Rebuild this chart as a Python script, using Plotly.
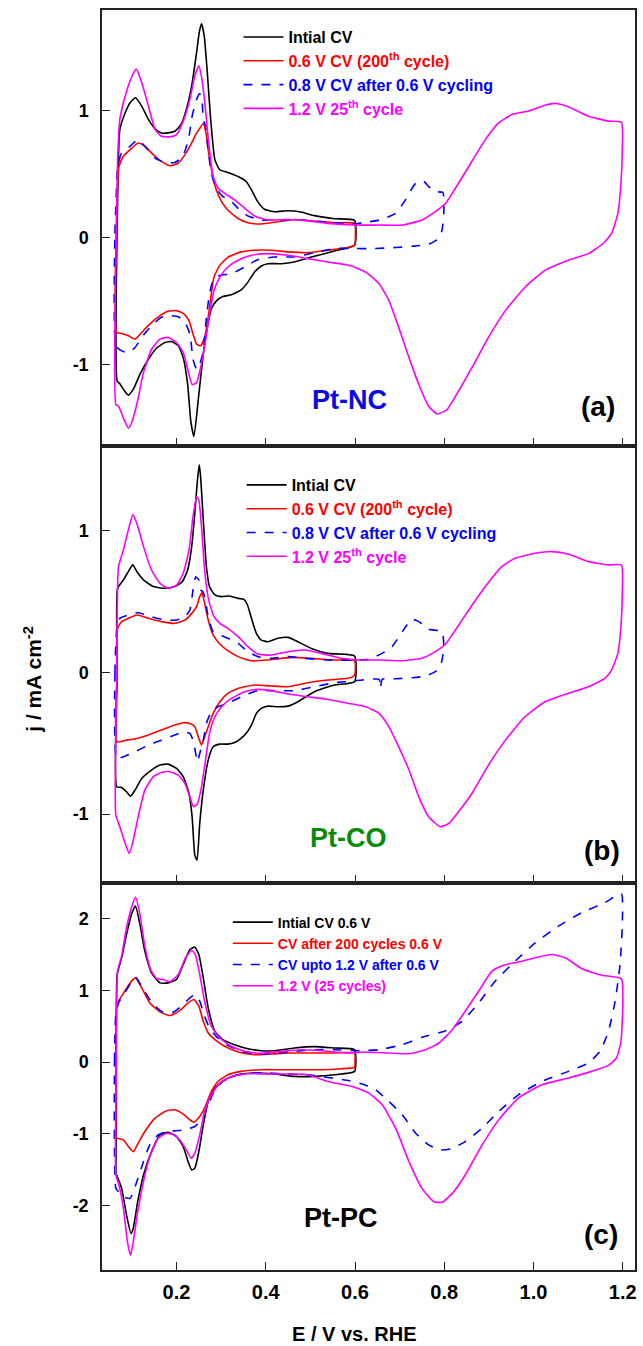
import plotly.graph_objects as go

# ---------------- data (E / V vs RHE, j / mA cm^-2) ----------------
a_black = [(0.067,-1.129),(0.068,0.296),(0.073,0.850),(0.085,0.982),(0.096,1.061),(0.108,1.100),(0.122,1.034),(0.137,0.929),(0.152,0.855),(0.166,0.823),(0.181,0.823),(0.196,0.836),(0.210,0.889),(0.222,1.008),(0.234,1.193),(0.245,1.456),(0.251,1.615),(0.256,1.681),(0.262,1.588),(0.269,1.298),(0.276,0.955),(0.286,0.612),(0.297,0.533),(0.315,0.512),(0.338,0.480),(0.356,0.441),(0.368,0.375),(0.382,0.282),(0.397,0.222),(0.420,0.203),(0.450,0.211),(0.479,0.201),(0.509,0.172),(0.554,0.148),(0.599,0.135),
           (0.599,-0.061),(0.554,-0.106),(0.509,-0.148),(0.464,-0.193),(0.435,-0.206),(0.405,-0.206),(0.390,-0.224),(0.375,-0.272),(0.360,-0.351),(0.345,-0.412),(0.323,-0.451),(0.304,-0.464),(0.290,-0.496),(0.278,-0.562),(0.269,-0.707),(0.260,-0.918),(0.250,-1.235),(0.239,-1.565),(0.232,-1.446),(0.225,-1.156),(0.215,-0.945),(0.204,-0.852),(0.189,-0.818),(0.174,-0.826),(0.155,-0.871),(0.137,-0.958),(0.118,-1.077),(0.103,-1.195),(0.092,-1.240),(0.081,-1.195),(0.073,-1.150),(0.067,-1.129)]
a_red = [(0.066,-0.747),(0.067,0.296),(0.071,0.559),(0.081,0.639),(0.096,0.691),(0.114,0.744),(0.129,0.718),(0.148,0.652),(0.166,0.599),(0.185,0.565),(0.204,0.586),(0.219,0.652),(0.234,0.744),(0.245,0.823),(0.253,0.863),(0.260,0.897),(0.266,0.823),(0.272,0.665),(0.280,0.507),(0.289,0.375),(0.301,0.282),(0.315,0.216),(0.338,0.150),(0.360,0.116),(0.390,0.106),(0.427,0.124),(0.464,0.142),(0.502,0.132),(0.554,0.116),(0.599,0.111),(0.601,0.032),
         (0.599,-0.061),(0.584,-0.079),(0.539,-0.100),(0.494,-0.119),(0.450,-0.113),(0.412,-0.100),(0.375,-0.100),(0.345,-0.113),(0.316,-0.153),(0.297,-0.219),(0.284,-0.311),(0.278,-0.443),(0.271,-0.628),(0.263,-0.786),(0.254,-0.852),(0.245,-0.839),(0.237,-0.760),(0.228,-0.654),(0.217,-0.602),(0.200,-0.575),(0.181,-0.580),(0.163,-0.615),(0.140,-0.681),(0.122,-0.747),(0.107,-0.799),(0.092,-0.773),(0.077,-0.755),(0.066,-0.747)]
a_blue = [(0.064,-0.852),(0.062,0.032),(0.064,0.243),(0.068,0.559),(0.077,0.665),(0.096,0.718),(0.114,0.770),(0.129,0.718),(0.152,0.625),(0.174,0.591),(0.196,0.591),(0.211,0.625),(0.220,0.691),(0.228,0.797),(0.235,0.955),(0.245,1.087),(0.252,1.132),(0.257,1.087),(0.260,0.929),(0.265,0.876),(0.271,0.691),(0.278,0.507),(0.289,0.388),(0.304,0.322),(0.319,0.296),(0.338,0.230),(0.360,0.169),(0.390,0.137),(0.427,0.137),(0.464,0.142),(0.524,0.124),(0.599,0.106),
          (0.616,0.116),(0.654,0.137),(0.691,0.190),(0.713,0.296),(0.736,0.427),(0.754,0.441),(0.765,0.401),(0.780,0.361),(0.797,0.354),(0.799,0.190),(0.795,0.058),(0.788,-0.008),(0.765,-0.053),(0.728,-0.069),(0.691,-0.079),(0.639,-0.087),(0.600,-0.087),
          (0.554,-0.087),(0.509,-0.119),(0.464,-0.153),(0.420,-0.153),(0.382,-0.174),(0.353,-0.232),(0.323,-0.285),(0.297,-0.298),(0.282,-0.338),(0.274,-0.443),(0.267,-0.628),(0.260,-0.892),(0.252,-0.997),(0.245,-1.037),(0.237,-0.958),(0.230,-0.760),(0.219,-0.668),(0.204,-0.623),(0.185,-0.615),(0.166,-0.628),(0.144,-0.694),(0.122,-0.786),(0.107,-0.865),(0.092,-0.905),(0.077,-0.892),(0.064,-0.852)]
a_mag = [(0.064,-1.314),(0.065,0.032),(0.068,0.612),(0.073,0.929),(0.085,1.113),(0.099,1.259),(0.110,1.325),(0.122,1.219),(0.137,1.034),(0.152,0.850),(0.166,0.797),(0.185,0.792),(0.200,0.810),(0.215,0.916),(0.230,1.087),(0.241,1.272),(0.250,1.351),(0.257,1.245),(0.265,1.008),(0.272,0.744),(0.282,0.480),(0.293,0.388),(0.308,0.348),(0.330,0.296),(0.353,0.230),(0.375,0.169),(0.405,0.137),(0.442,0.142),(0.479,0.137),(0.539,0.111),(0.599,0.098),
         (0.654,0.098),(0.706,0.098),(0.750,0.137),(0.780,0.203),(0.803,0.269),(0.825,0.388),(0.855,0.559),(0.892,0.770),(0.922,0.902),(0.952,0.968),(0.989,0.995),(1.026,1.040),(1.048,1.055),(1.078,1.029),(1.123,0.955),(1.168,0.916),(1.197,0.908),
         (1.199,0.691),(1.196,0.427),(1.189,0.190),(1.175,0.032),(1.156,-0.047),(1.123,-0.127),(1.078,-0.179),(1.026,-0.259),(0.981,-0.391),(0.937,-0.575),(0.899,-0.786),(0.862,-1.024),(0.832,-1.208),(0.806,-1.354),(0.784,-1.388),(0.765,-1.327),(0.743,-1.156),(0.721,-0.945),(0.698,-0.707),(0.676,-0.496),(0.654,-0.364),(0.624,-0.272),(0.587,-0.219),
         (0.539,-0.193),(0.494,-0.166),(0.450,-0.140),(0.405,-0.127),(0.368,-0.140),(0.338,-0.179),(0.315,-0.232),(0.297,-0.311),(0.284,-0.417),(0.274,-0.602),(0.265,-0.813),(0.254,-1.024),(0.245,-1.142),(0.235,-1.156),(0.226,-1.050),(0.215,-0.905),(0.200,-0.826),(0.181,-0.786),(0.163,-0.799),(0.144,-0.879),(0.125,-1.077),(0.111,-1.314),(0.099,-1.459),(0.092,-1.499),(0.081,-1.420),(0.070,-1.327),(0.064,-1.314)]

b_black = [(0.066,-0.807),(0.067,-0.007),(0.068,0.593),(0.081,0.652),(0.092,0.711),(0.102,0.758),(0.111,0.711),(0.126,0.652),(0.148,0.605),(0.174,0.593),(0.196,0.605),(0.213,0.640),(0.225,0.722),(0.234,0.887),(0.241,1.122),(0.247,1.358),(0.251,1.464),(0.254,1.381),(0.260,1.075),(0.267,0.746),(0.274,0.605),(0.286,0.546),(0.301,0.534),(0.319,0.539),(0.338,0.522),(0.351,0.515),(0.359,0.475),(0.368,0.381),(0.379,0.275),(0.390,0.228),(0.405,0.216),(0.427,0.240),(0.450,0.247),(0.472,0.216),(0.502,0.169),(0.539,0.134),(0.599,0.115),
           (0.599,-0.066),(0.554,-0.089),(0.509,-0.136),(0.472,-0.207),(0.450,-0.238),(0.427,-0.242),(0.405,-0.238),(0.390,-0.254),(0.379,-0.289),(0.368,-0.372),(0.353,-0.442),(0.334,-0.489),(0.315,-0.506),(0.297,-0.506),(0.282,-0.525),(0.271,-0.619),(0.260,-0.831),(0.252,-1.066),(0.246,-1.325),(0.241,-1.289),(0.235,-1.019),(0.228,-0.854),(0.215,-0.736),(0.200,-0.678),(0.181,-0.647),(0.163,-0.654),(0.144,-0.689),(0.122,-0.748),(0.107,-0.831),(0.097,-0.873),(0.088,-0.842),(0.077,-0.812),(0.066,-0.807)]
b_red = [(0.066,-0.489),(0.067,-0.007),(0.068,0.311),(0.077,0.358),(0.092,0.381),(0.111,0.405),(0.137,0.381),(0.166,0.358),(0.196,0.346),(0.219,0.369),(0.234,0.416),(0.245,0.464),(0.252,0.534),(0.257,0.562),(0.263,0.487),(0.271,0.369),(0.282,0.264),(0.297,0.200),(0.315,0.153),(0.338,0.111),(0.368,0.082),(0.405,0.087),(0.435,0.099),(0.464,0.106),(0.502,0.099),(0.554,0.087),(0.599,0.082),(0.599,-0.019),
         (0.584,-0.042),(0.539,-0.054),(0.494,-0.073),(0.450,-0.101),(0.412,-0.096),(0.375,-0.089),(0.338,-0.113),(0.315,-0.148),(0.297,-0.207),(0.282,-0.289),(0.271,-0.384),(0.263,-0.454),(0.256,-0.513),(0.250,-0.466),(0.241,-0.384),(0.230,-0.360),(0.215,-0.355),(0.196,-0.372),(0.166,-0.407),(0.137,-0.442),(0.111,-0.466),(0.088,-0.478),(0.066,-0.489)]
b_blue = [(0.066,-0.607),(0.062,-0.007),(0.066,0.299),(0.073,0.381),(0.092,0.405),(0.114,0.421),(0.144,0.393),(0.174,0.369),(0.200,0.369),(0.219,0.393),(0.230,0.440),(0.237,0.581),(0.243,0.675),(0.250,0.652),(0.254,0.581),(0.259,0.569),(0.263,0.534),(0.271,0.393),(0.282,0.287),(0.297,0.264),(0.315,0.240),(0.338,0.205),(0.360,0.146),(0.382,0.111),(0.412,0.099),(0.450,0.111),(0.487,0.099),(0.539,0.087),(0.599,0.087),
          (0.631,0.092),(0.661,0.134),(0.683,0.181),(0.706,0.287),(0.727,0.374),(0.743,0.358),(0.765,0.304),(0.795,0.287),(0.799,0.181),(0.795,0.087),(0.791,0.040),(0.780,0.005),(0.758,-0.026),(0.728,-0.038),(0.691,-0.045),(0.661,-0.049),(0.657,-0.113),(0.654,-0.049),(0.616,-0.054),(0.600,-0.059),
          (0.554,-0.073),(0.509,-0.101),(0.464,-0.129),(0.420,-0.129),(0.382,-0.129),(0.345,-0.172),(0.315,-0.219),(0.293,-0.242),(0.278,-0.278),(0.267,-0.360),(0.260,-0.478),(0.252,-0.572),(0.247,-0.631),(0.243,-0.572),(0.238,-0.489),(0.230,-0.431),(0.215,-0.419),(0.196,-0.442),(0.166,-0.478),(0.137,-0.513),(0.107,-0.560),(0.081,-0.595),(0.066,-0.607)]
b_mag = [(0.064,-1.007),(0.066,-0.007),(0.070,0.746),(0.081,0.864),(0.092,1.005),(0.102,1.111),(0.111,1.052),(0.126,0.887),(0.144,0.722),(0.163,0.628),(0.181,0.593),(0.200,0.616),(0.215,0.699),(0.228,0.864),(0.237,1.099),(0.245,1.240),(0.250,1.216),(0.256,1.028),(0.263,0.722),(0.272,0.511),(0.284,0.393),(0.297,0.346),(0.315,0.311),(0.338,0.252),(0.360,0.181),(0.382,0.129),(0.412,0.122),(0.450,0.146),(0.487,0.158),(0.524,0.134),(0.569,0.099),(0.613,0.087),
         (0.654,0.087),(0.706,0.082),(0.750,0.099),(0.780,0.146),(0.803,0.200),(0.825,0.299),(0.855,0.440),(0.892,0.605),(0.929,0.746),(0.959,0.805),(1.004,0.840),(1.041,0.852),(1.078,0.835),(1.123,0.781),(1.168,0.758),(1.197,0.758),
         (1.199,0.558),(1.196,0.322),(1.189,0.134),(1.175,0.016),(1.160,-0.042),(1.123,-0.101),(1.078,-0.148),(1.026,-0.207),(0.981,-0.313),(0.937,-0.478),(0.899,-0.654),(0.862,-0.854),(0.829,-0.995),(0.810,-1.066),(0.791,-1.089),(0.765,-1.019),(0.743,-0.878),(0.721,-0.689),(0.698,-0.525),(0.676,-0.384),(0.654,-0.289),(0.624,-0.242),(0.587,-0.219),
         (0.539,-0.191),(0.494,-0.172),(0.450,-0.153),(0.412,-0.129),(0.382,-0.120),(0.353,-0.136),(0.323,-0.184),(0.301,-0.242),(0.286,-0.313),(0.274,-0.431),(0.265,-0.619),(0.256,-0.807),(0.247,-0.925),(0.238,-0.948),(0.230,-0.878),(0.219,-0.784),(0.204,-0.725),(0.185,-0.701),(0.166,-0.706),(0.148,-0.736),(0.129,-0.831),(0.114,-1.019),(0.103,-1.184),(0.094,-1.278),(0.085,-1.207),(0.073,-1.089),(0.064,-1.007)]

c_black = [(0.064,-1.572),(0.065,-0.642),(0.067,1.219),(0.077,1.451),(0.088,1.777),(0.099,2.056),(0.108,2.172),(0.118,1.916),(0.129,1.544),(0.144,1.242),(0.163,1.102),(0.181,1.102),(0.200,1.149),(0.215,1.358),(0.230,1.567),(0.241,1.600),(0.250,1.498),(0.260,1.172),(0.271,0.753),(0.286,0.428),(0.304,0.312),(0.330,0.242),(0.360,0.186),(0.390,0.158),(0.420,0.158),(0.464,0.195),(0.509,0.214),(0.554,0.195),(0.599,0.172),
           (0.599,-0.130),(0.554,-0.177),(0.509,-0.200),(0.464,-0.200),(0.420,-0.167),(0.375,-0.153),(0.338,-0.177),(0.308,-0.247),(0.286,-0.363),(0.271,-0.549),(0.260,-0.874),(0.250,-1.247),(0.241,-1.479),(0.234,-1.502),(0.226,-1.386),(0.215,-1.177),(0.200,-1.037),(0.181,-0.977),(0.163,-1.014),(0.144,-1.247),(0.126,-1.572),(0.113,-1.944),(0.103,-2.316),(0.098,-2.386),(0.088,-2.130),(0.077,-1.758),(0.066,-1.572)]
c_red = [(0.064,-1.060),(0.064,-0.177),(0.066,0.753),(0.070,0.847),(0.084,0.986),(0.099,1.126),(0.108,1.172),(0.122,1.033),(0.140,0.823),(0.163,0.698),(0.185,0.647),(0.207,0.716),(0.226,0.823),(0.239,0.870),(0.250,0.777),(0.260,0.567),(0.271,0.405),(0.286,0.312),(0.308,0.219),(0.338,0.140),(0.375,0.102),(0.412,0.112),(0.450,0.126),(0.502,0.126),(0.554,0.126),(0.599,0.126),(0.600,0.009),(0.599,-0.074),
         (0.569,-0.093),(0.524,-0.107),(0.479,-0.107),(0.435,-0.107),(0.390,-0.107),(0.345,-0.130),(0.315,-0.177),(0.293,-0.270),(0.278,-0.409),(0.263,-0.642),(0.252,-0.758),(0.239,-0.837),(0.230,-0.805),(0.215,-0.726),(0.196,-0.665),(0.178,-0.679),(0.152,-0.781),(0.129,-0.967),(0.114,-1.130),(0.103,-1.247),(0.092,-1.177),(0.081,-1.084),(0.066,-1.060)]
c_blue = [(0.064,-1.758),(0.061,0.009),(0.064,0.660),(0.070,0.823),(0.084,0.963),(0.108,1.181),(0.126,1.009),(0.148,0.800),(0.170,0.693),(0.192,0.693),(0.211,0.777),(0.230,0.893),(0.242,0.940),(0.252,0.847),(0.263,0.637),(0.274,0.474),(0.289,0.358),(0.312,0.242),(0.345,0.149),(0.382,0.112),(0.420,0.126),(0.464,0.149),(0.509,0.172),(0.554,0.172),(0.613,0.158),
          (0.654,0.172),(0.706,0.242),(0.750,0.344),(0.803,0.437),(0.840,0.567),(0.877,0.823),(0.914,1.126),(0.959,1.405),(1.004,1.660),(1.056,1.893),(1.108,2.079),(1.160,2.219),(1.197,2.344),
          (1.199,1.916),(1.194,1.358),(1.183,0.847),(1.168,0.428),(1.149,0.149),(1.123,-0.014),(1.078,-0.130),(1.019,-0.270),(0.966,-0.456),(0.922,-0.688),(0.885,-0.921),(0.847,-1.107),(0.814,-1.209),(0.791,-1.223),(0.765,-1.153),(0.736,-0.991),(0.706,-0.735),(0.676,-0.549),(0.646,-0.386),(0.616,-0.307),(0.587,-0.260),
          (0.539,-0.214),(0.494,-0.177),(0.450,-0.167),(0.405,-0.153),(0.368,-0.153),(0.330,-0.191),(0.304,-0.270),(0.286,-0.386),(0.271,-0.595),(0.256,-0.805),(0.241,-0.898),(0.219,-0.944),(0.196,-0.958),(0.178,-0.967),(0.159,-1.014),(0.140,-1.153),(0.126,-1.386),(0.111,-1.665),(0.096,-1.898),(0.081,-1.874),(0.070,-1.805),(0.064,-1.758)]
c_mag = [(0.064,-1.572),(0.065,-0.177),(0.068,1.265),(0.077,1.474),(0.088,1.870),(0.099,2.149),(0.108,2.298),(0.118,2.056),(0.129,1.614),(0.142,1.288),(0.155,1.163),(0.170,1.149),(0.185,1.116),(0.204,1.219),(0.220,1.451),(0.234,1.553),(0.242,1.498),(0.252,1.219),(0.263,0.847),(0.278,0.498),(0.297,0.335),(0.323,0.219),(0.353,0.149),(0.390,0.121),(0.435,0.149),(0.479,0.172),(0.524,0.158),(0.584,0.126),
         (0.616,0.140),(0.676,0.126),(0.721,0.116),(0.758,0.172),(0.788,0.265),(0.818,0.451),(0.847,0.707),(0.877,0.986),(0.907,1.265),(0.933,1.349),(0.966,1.391),(1.004,1.451),(1.041,1.498),(1.071,1.451),(1.108,1.302),(1.153,1.209),(1.197,1.158),
         (1.200,0.753),(1.196,0.288),(1.186,0.056),(1.168,-0.047),(1.130,-0.130),(1.078,-0.223),(1.019,-0.316),(0.966,-0.502),(0.922,-0.805),(0.885,-1.153),(0.847,-1.572),(0.818,-1.828),(0.795,-1.953),(0.777,-1.944),(0.750,-1.758),(0.721,-1.386),(0.691,-0.921),(0.661,-0.595),(0.631,-0.433),(0.594,-0.340),
         (0.539,-0.270),(0.494,-0.177),(0.450,-0.167),(0.405,-0.167),(0.360,-0.163),(0.323,-0.200),(0.297,-0.293),(0.278,-0.456),(0.263,-0.688),(0.252,-1.014),(0.241,-1.270),(0.233,-1.340),(0.224,-1.247),(0.210,-1.107),(0.195,-1.014),(0.178,-0.991),(0.159,-1.060),(0.140,-1.316),(0.126,-1.665),(0.113,-2.084),(0.103,-2.502),(0.097,-2.688),(0.090,-2.502),(0.081,-2.037),(0.071,-1.712),(0.064,-1.572)]

names_ab = ["Intial CV", "0.6 V CV (200<sup>th</sup> cycle)", "0.8 V CV after 0.6 V cycling", "1.2 V 25<sup>th</sup> cycle"]
names_c = ["Intial CV 0.6 V", "CV after 200 cycles 0.6 V", "CV upto 1.2 V after 0.6 V", "1.2 V (25 cycles)"]
panel_labels = ["Pt-NC", "Pt-CO", "Pt-PC"]
panel_letters = ["(a)", "(b)", "(c)"]
x_ticks = [0.2, 0.4, 0.6, 0.8, 1.0, 1.2]
y_ticks_ab = [-1, 0, 1]
y_ticks_c = [-2, -1, 0, 1, 2]

# ---------------- styling ----------------
colors = ["#000000", "#ff0000", "#0000ff", "#ff00ff"]
dashes = ["solid", "solid", "dash", "solid"]
FONT = "Liberation Sans, Arial, sans-serif"

fig = go.Figure()
panels = [
    ([a_black, a_red, a_blue, a_mag], names_ab, "x", "y", "legend"),
    ([b_black, b_red, b_blue, b_mag], names_ab, "x2", "y2", "legend2"),
    ([c_black, c_red, c_blue, c_mag], names_c, "x3", "y3", "legend3"),
]
for curves, names, xa, ya, lg in panels:
    for curve, name, col, dsh in zip(curves, names, colors, dashes):
        E = [p[0] for p in curve]
        J = [p[1] for p in curve]
        fig.add_trace(go.Scatter(
            x=E, y=J, mode="lines", xaxis=xa, yaxis=ya, legend=lg,
            name=f'<span style="color:{col}">{name}</span>',
            line=dict(color=col, width=1.6, dash=dsh, shape="spline", smoothing=0.5),
        ))

axis_common = dict(showline=True, mirror=True, linecolor="#222222", linewidth=1.5,
                   ticks="inside", ticklen=8, tickwidth=1.3, tickcolor="#222222",
                   showgrid=False, zeroline=False)
xr = [0.033, 1.2275]
domains = [[0.654, 1.0], [0.307, 0.654], [0.0, 0.307]]
yranges = [[-1.64, 1.79], [-1.487, 1.597], [-2.895, 2.49]]
yticks = [y_ticks_ab, y_ticks_ab, y_ticks_c]

layout = dict(
    width=643, height=1346,
    margin=dict(l=102, r=6, t=10, b=76),
    paper_bgcolor="white", plot_bgcolor="white",
    font=dict(family=FONT, size=16, color="black", weight="bold"),
)
for i in range(3):
    sx = "" if i == 0 else str(i + 1)
    layout["xaxis" + sx] = dict(axis_common, range=xr, anchor="y" + sx, tickvals=x_ticks,
                                ticktext=[f"{v:.1f}" for v in x_ticks],
                                showticklabels=(i == 2),
                                tickfont=dict(size=20, family=FONT, weight="bold"),
                                ticklabelstandoff=3)
    if i < 2:
        layout["xaxis" + sx]["matches"] = "x3"
    layout["yaxis" + sx] = dict(axis_common, range=yranges[i], domain=domains[i], anchor="x" + sx,
                                tickvals=yticks[i], ticktext=[str(v) for v in yticks[i]],
                                tickfont=dict(size=18, family=FONT, weight="bold"),
                                ticklabelstandoff=8)

leg_common = dict(bgcolor="rgba(0,0,0,0)", borderwidth=0, xanchor="left", yanchor="top",
                  tracegroupgap=0, itemwidth=40)
layout["legend"] = dict(leg_common, x=0.256, y=0.992, font=dict(size=16, family=FONT, weight="bold"))
layout["legend2"] = dict(leg_common, x=0.262, y=0.6365, font=dict(size=16, family=FONT, weight="bold"))
layout["legend3"] = dict(leg_common, x=0.236, y=0.2885, font=dict(size=14, family=FONT, weight="bold"))

fig.update_layout(**layout)

ann = []
lab_pos = [(0.4636, 0.6905, "#0a0ae6"), (0.4617, 0.3429, "#0a8a0a"), (0.4486, 0.0413, "#000000")]
let_pos = [(0.931, 0.6857), (0.938, 0.3333), (0.9364, 0.0278)]
for (lx, ly, lc), txt in zip(lab_pos, panel_labels):
    ann.append(dict(x=lx, y=ly, xref="paper", yref="paper", text=txt, showarrow=False,
                    xanchor="center", yanchor="middle",
                    font=dict(size=27, color=lc, family=FONT, weight="bold")))
for (lx, ly), txt in zip(let_pos, panel_letters):
    ann.append(dict(x=lx, y=ly, xref="paper", yref="paper", text=txt, showarrow=False,
                    xanchor="center", yanchor="middle",
                    font=dict(size=28, color="black", family=FONT, weight="bold")))
ann.append(dict(x=0.474, y=-0.0505, xref="paper", yref="paper", text="E / V vs. RHE", showarrow=False,
                xanchor="center", yanchor="middle",
                font=dict(size=20, family=FONT, weight="bold")))
ann.append(dict(x=-0.13, y=0.469, xref="paper", yref="paper", text="j / mA cm<sup>-2</sup>",
                textangle=-90, showarrow=False, xanchor="center", yanchor="middle",
                font=dict(size=21, family=FONT, weight="bold")))
fig.update_layout(annotations=ann)

fig.write_html("out.html", config={"displayModeBar": False},
               post_script="document.body.style.margin='0px';document.body.style.overflow='hidden';")
